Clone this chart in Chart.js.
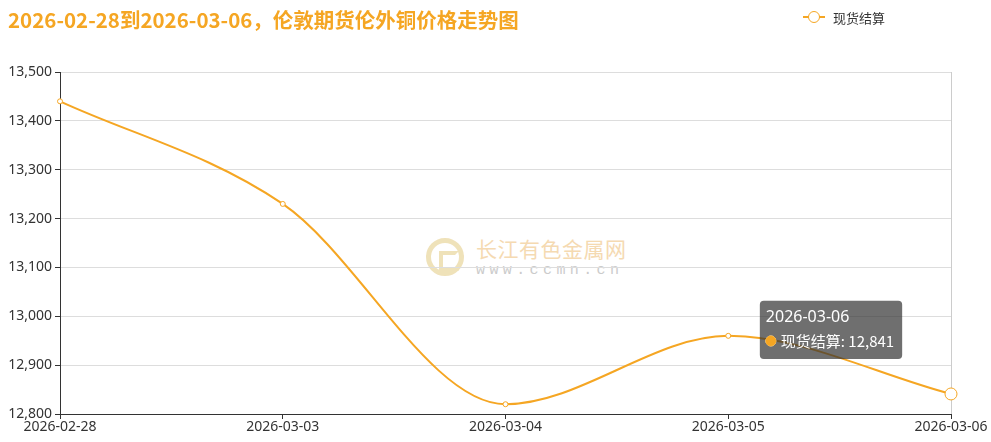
<!DOCTYPE html>
<html>
<head>
<meta charset="utf-8">
<script src="https://cdn.jsdelivr.net/npm/chart.js@4/dist/chart.umd.min.js"></script>
<style>
  html, body { margin: 0; padding: 0; background: #fff; }
  #wrap { position: relative; width: 991px; height: 442px; overflow: hidden;
    font-family: "Noto Sans", "Noto Sans CJK SC", sans-serif; }
  #title { position: absolute; left: 8px; top: 4px; font-size: 20.5px; font-weight: bold;
    color: #f5a623; font-family: "Noto Sans CJK SC", "Noto Sans", sans-serif; white-space: nowrap; }
  #legend { position: absolute; left: 803px; top: 7px; height: 20px; display: flex; align-items: center;
    font-size: 13px; color: #333; font-family: "Noto Sans CJK SC", sans-serif; }
  #legend .mark { position: relative; width: 22px; height: 20px; margin-right: 8px; }
  #legend .mark i { position: absolute; left: 0; top: 9px; width: 22px; height: 2px; background: #f5a623; }
  #legend .mark b { position: absolute; left: 5px; top: 4px; width: 10px; height: 10px; border: 1.5px solid #f5a623;
    border-radius: 50%; background: #fff; }
  #wm { position: absolute; left: 426px; top: 235px; width: 230px; height: 50px; opacity: 0.6; }
  #wm .logo { position: absolute; left: 0; top: 3px; width: 38px; height: 38px; border-radius: 50%;
    border: 5px solid #e6cf8c; box-sizing: border-box; }
  #wm .logo span { position: absolute; left: 8px; top: 8px; width: 12px; height: 12px; border: 4px solid #e6cf8c;
    border-right-color: transparent; }
  #wm .cn { position: absolute; left: 50px; top: 1px; font-size: 21px; color: #efc27e;
    font-family: "Noto Sans CJK SC", sans-serif; letter-spacing: 0.5px; line-height: 25px; }
  #wm .en { position: absolute; left: 50px; top: 27px; font-size: 15px; color: #aaa; letter-spacing: 4.4px;
    font-family: "Liberation Mono", "DejaVu Sans Mono", monospace; line-height: 18px; }
  canvas { position: absolute; left: 0; top: 0; }
</style>
</head>
<body>
<div id="wrap">
  <div id="wm"><div class="logo"><span></span></div><div class="cn">长江有色金属网</div><div class="en">www.ccmn.cn</div></div>
  <canvas id="c" width="991" height="442"></canvas>
  <div id="title">2026-02-28到2026-03-06，伦敦期货伦外铜价格走势图</div>
  <div id="legend"><div class="mark"><i></i><b></b></div>现货结算</div>
</div>
<script>
// data
const dates = ['2026-02-28', '2026-03-03', '2026-03-04', '2026-03-05', '2026-03-06'];
const spotPrices = [13440, 13230, 12820, 12960, 12841];
const seriesName = '现货结算';

const ORANGE = '#f5a623';

// tooltip sits up and to the left of the hovered point
Chart.Tooltip.positioners.leftAbove = function (items) {
  if (!items.length) return false;
  const el = items[0].element;
  return { x: el.x - 120, y: el.y - 35 };
};

const chart = new Chart(document.getElementById('c').getContext('2d'), {
  type: 'line',
  data: {
    labels: dates,
    datasets: [{
      label: seriesName,
      data: spotPrices,
      borderColor: ORANGE,
      backgroundColor: '#fff',
      borderWidth: 2,
      cubicInterpolationMode: 'monotone',
      pointRadius: 2.5,
      pointBorderWidth: 1,
      pointBackgroundColor: '#fff',
      pointBorderColor: ORANGE,
      pointHoverRadius: 6,
      pointHoverBorderWidth: 1,
      pointHoverBackgroundColor: '#fff',
      pointHoverBorderColor: ORANGE,
    }],
  },
  options: {
    responsive: false,
    animation: false,
    locale: 'en-US',
    layout: { padding: { top: 72, right: 40, left: 0, bottom: 0 } },
    events: [],
    plugins: {
      legend: { display: false },
      title: { display: false },
      tooltip: {
        position: 'leftAbove',
        xAlign: 'center',
        yAlign: 'bottom',
        caretSize: 0,
        caretPadding: 0,
        backgroundColor: 'rgba(50,50,50,0.7)',
        cornerRadius: 4,
        padding: { left: 6, right: 8, top: 7, bottom: 9 },
        titleFont: { family: '"Noto Sans", "Noto Sans CJK SC"', size: 16, weight: 'normal' },
        bodyFont: { family: '"Noto Sans CJK SC", "Noto Sans"', size: 15, weight: 'normal' },
        titleColor: '#fff',
        bodyColor: '#fff',
        titleMarginBottom: 5,
        usePointStyle: true,
        boxWidth: 10,
        boxHeight: 10,
        boxPadding: 3,
        callbacks: {
          label(ctx) { return ctx.dataset.label + ': ' + ctx.parsed.y.toLocaleString('en-US'); },
          labelColor() { return { borderColor: ORANGE, backgroundColor: ORANGE }; },
          labelPointStyle() { return { pointStyle: 'circle', rotation: 0 }; },
        },
      },
    },
    scales: {
      x: {
        grid: {
          color: ctx => ctx.index === dates.length - 1 ? '#ccc' : 'rgba(0,0,0,0)',
          tickColor: '#333',
          tickLength: 5,
        },
        border: { color: '#333', width: 1 },
        ticks: { color: '#333', font: { family: '"Noto Sans"', size: 14 }, padding: 0, maxRotation: 0, autoSkip: false },
        afterFit(scale) { scale.height = 28; },
      },
      y: {
        min: 12800,
        max: 13500,
        grid: { color: '#ddd', tickColor: '#333', tickLength: 5 },
        border: { color: '#333', width: 1 },
        ticks: { stepSize: 100, color: '#333', font: { family: '"Noto Sans"', size: 14 }, padding: 3 },
        afterFit(scale) { scale.width = 60; },
      },
    },
  },
});

const last = dates.length - 1;
chart.setActiveElements([{ datasetIndex: 0, index: last }]);
chart.tooltip.setActiveElements([{ datasetIndex: 0, index: last }], { x: 0, y: 0 });
chart.update();
</script>
</body>
</html>
